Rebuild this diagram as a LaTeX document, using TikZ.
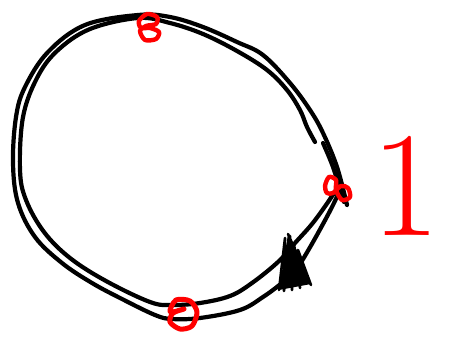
\documentclass[tikz,border=0pt]{standalone}
\begin{document}
\begin{tikzpicture}[x=1pt,y=-1pt,
  ink/.style={draw=black,line width=4.2pt,line cap=round,line join=round},
  redink/.style={draw=red,line width=4.4pt,line cap=round,line join=round}]
\useasboundingbox[fill=white] (0,0) rectangle (452,350);
% outer stroke of the loop
\draw[ink] plot[smooth,tension=0.6] coordinates{(347,205) (337,167) (323,133) (310,110) (290,83) (263,55) (237,42) (203,27) (170,17) (138,15) (85,25) (48,52) (25,87) (16,117) (13,163) (18,203) (35,237) (62,263) (92,283) (122,299) (155,315) (172,319) (200,318) (240,310) (263,297) (283,282) (297,268) (309,249) (323,224) (333,205) (340,190)};
% inner stroke of the loop
\draw[ink] plot[smooth,tension=0.6] coordinates{(315,142) (307,127) (300,110) (287,90) (267,70) (237,51) (203,34) (170,23) (138,18) (90,29) (57,51) (37,78) (23,117) (20,170) (26,200) (44,232) (70,258) (106,281) (150,302) (172,305) (200,303) (230,296) (252,283) (278,262) (295,243) (312,224) (326,205) (336,190)};
% short extra stroke at right
\draw[ink] plot[smooth] coordinates{(323,143) (333,167) (344,202)};
% arrowhead scribble
\fill[black] (288,234) -- (279,290) -- (311,284) -- cycle;
\draw[ink,line width=2.6pt] (279,290) -- (285,238) -- (284,291) -- (290,236) -- (292,290) -- (294,244) -- (300,288) -- (298,250) -- (311,285) -- (288,234);
% red scribbles
\draw[redink] plot[smooth cycle] coordinates{(139,21) (147,14) (157,17) (156,24) (146,26) (140,31) (145,40) (156,39) (159,32) (150,28) (141,28)};
\draw[redink] plot[smooth cycle] coordinates{(325,186) (329,177) (336,180) (336,190) (342,200) (350,197) (348,188) (341,186) (333,193) (327,193)};
\draw[redink,line width=5pt] plot[smooth cycle] coordinates{(170,312) (176,300) (190,301) (197,312) (192,326) (180,329) (170,322) (173,313) (184,309)};
% label
\node[red,inner sep=0pt] (one) at (406,186) {\fontsize{150}{150}\selectfont 1};
\end{tikzpicture}
\end{document}
